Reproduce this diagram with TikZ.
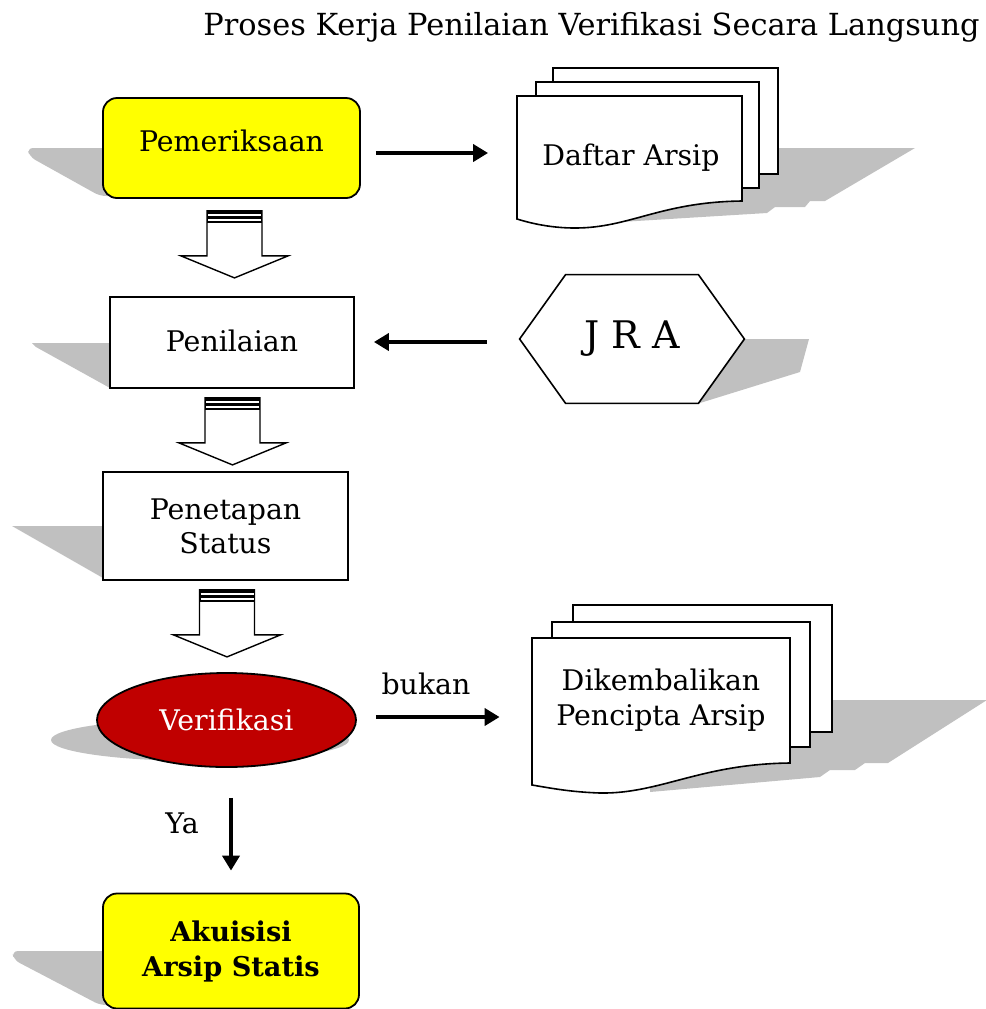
\documentclass[tikz,border=0pt]{standalone}
\usepackage{fontspec}
\setmainfont{DejaVu Serif}
\usetikzlibrary{arrows.meta,shapes.geometric,calc}

\definecolor{boxyellow}{HTML}{FFFF00}
\definecolor{verred}{HTML}{C00000}
\definecolor{shadowgray}{HTML}{C0C0C0}

\newcommand{\hollowarrow}[1]{%
	\begin{scope}[shift={#1}]
		\filldraw[fill=white, line width=0.7pt] (-27.5,0) -- (27.5,0) -- (27.5,45) -- (53.5,45) -- (0,67) -- (-53.5,45) -- (-27.5,45) -- cycle;
		\fill (-27.5,0) rectangle (27.5,12.5);
		\draw[white, line width=0.85pt] (-26.5,4.2) -- (26.5,4.2);
		\draw[white, line width=0.85pt] (-26.5,9.2) -- (26.5,9.2);
	\end{scope}}

\begin{document}
\begin{tikzpicture}[x=0.5pt,y=-0.5pt,
	every node/.style={font=\fontsize{14.2}{17}\selectfont},
	box/.style={draw, line width=0.9pt, inner sep=0pt, align=center},
	page/.style={fill=white, draw, line width=0.8pt},
	flow/.style={line width=2pt, -{Triangle[length=7.5pt,width=8.5pt]}}]
	\useasboundingbox (0,0) rectangle (986,1009);

	\node[font=\fontsize{15.2}{18}\selectfont, anchor=east, inner sep=0pt] (title) at (980,27) {Proses Kerja Penilaian Verifikasi Secara Langsung};

	\fill[shadowgray, rounded corners=3pt] (27,148) -- (115,148) -- (115,196) -- (100,196) -- (30,157) -- cycle;
	\fill[shadowgray] (32,343) -- (115,343) -- (115,388) -- (110,388) -- (36,347) -- cycle;
	\fill[shadowgray] (12,526) -- (110,526) -- (110,578) -- (103,578) -- cycle;
	\fill[shadowgray] (200,740) ellipse [x radius=149, y radius=21];
	\fill[shadowgray, rounded corners=3pt] (12,951) -- (115,951) -- (115,1005) -- (100,1005) -- (14,960) -- cycle;
	\fill[shadowgray] (740,339) -- (809,339) -- (800,372) -- (700,403) -- cycle;
	\fill[shadowgray] (760,148) -- (915,148) -- (825,201) -- (810,201) -- (805,207) -- (775,207) -- (767,213) -- (620,222) -- (620,200) -- cycle;
	\fill[shadowgray] (820,700) -- (987,700) -- (888,763) -- (865,763) -- (855,770) -- (830,770) -- (820,777) -- (650,792) -- (650,770) -- cycle;

	\node[box, fill=boxyellow, rounded corners=7pt, minimum width=128.5pt, minimum height=50pt] (pem) at (231.5,148) {\raisebox{7pt}{Pemeriksaan}};
	\node[box, fill=white, minimum width=122pt, minimum height=45.5pt] (pen) at (232,342.5) {\raisebox{2pt}{Penilaian}};
	\node[box, fill=white, minimum width=122.5pt, minimum height=54pt] (pst) at (225.5,526) {Penetapan\\Status};
	\node[box, ellipse, fill=verred, text=white, minimum width=129.5pt, minimum height=47pt] (ver) at (226.5,720) {Verifikasi};
	\node[box, fill=boxyellow, rounded corners=7pt, minimum width=128pt, minimum height=57.5pt, font=\fontsize{13.6}{17.5}\selectfont\bfseries] (aku) at (231,951) {Akuisisi\\Arsip Statis};

	\coordinate (ha1) at ($(pem.south)+(3,12)$);
	\coordinate (ha2) at ($(pen.south)+(0.5,9)$);
	\coordinate (ha3) at ($(pst.south)+(1.5,9)$);
	\hollowarrow{(ha1)}
	\hollowarrow{(ha2)}
	\hollowarrow{(ha3)}

	\filldraw[page] (553,68) rectangle (778,174);
	\filldraw[page] (536,82) rectangle (759,188);
	\filldraw[page] (517,96) -- (742,96) -- (742,201) .. controls (660,202) and (630,228) .. (575,228) .. controls (550,228) and (530,223) .. (517,219) -- cycle;
	\node[inner sep=0pt, minimum width=112.5pt] (daftar) at (631,158) {Daftar Arsip};

	\node[inner sep=0pt, minimum width=112pt, minimum height=64pt] (jra) at (632,339) {};
	\filldraw[page] (jra.west) -- ($(jra.north west)+(46,0)$) -- ($(jra.north east)+(-46,0)$) -- (jra.east) -- ($(jra.south east)+(-46,0)$) -- ($(jra.south west)+(46,0)$) -- cycle;
	\node[font=\fontsize{19}{22}\selectfont] (jratext) at (jra) {J R A};

	\filldraw[page] (573,605) rectangle (832,732);
	\filldraw[page] (552,622) rectangle (810,747);
	\filldraw[page] (532,638) -- (790,638) -- (790,763) .. controls (700,764) and (660,794) .. (600,793) .. controls (570,792) and (550,788) .. (532,785) -- cycle;
	\node[inner sep=0pt, minimum width=129pt, align=center, font=\fontsize{14.2}{17.5}\selectfont] (kembali) at (661,700) {Dikembalikan\\Pencipta Arsip};

	\draw[flow] ($(pem.east)+(15,5)$) -- ($(daftar.west)+(-30,-5)$);
	\draw[flow] ($(jra.west)+(-33,3)$) -- ($(pen.east)+(19,-0.5)$);
	\draw[flow] ($(ver.east)+(19,-3)$) -- ($(kembali.west |- ver.east)+(-32,-3)$);
	\draw[flow] ($(aku.north |- ver.south)+(0,30)$) -- ($(aku.north)+(0,-22)$);

	\node (bukan) at (426,684) {bukan};
	\node (ya) at (182,823) {Ya};
\end{tikzpicture}
\end{document}
